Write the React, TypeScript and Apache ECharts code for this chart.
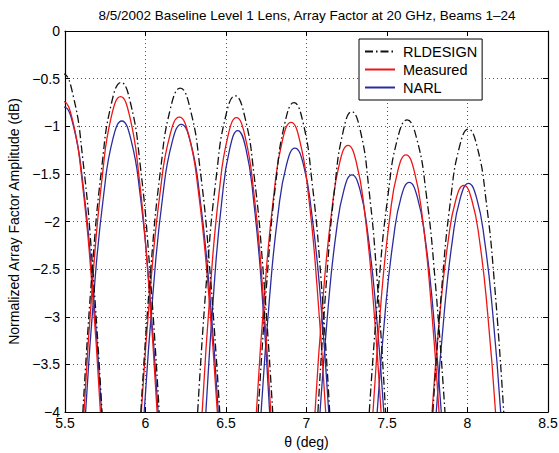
import React, { useEffect, useRef } from 'react';
import * as echarts from 'echarts';

const TITLE = '8/5/2002 Baseline Level 1 Lens, Array Factor at 20 GHz, Beams 1\u201324';
const X_NAME = '\u03b8 (deg)';
const Y_NAME = 'Normalized Array Factor Amplitude (dB)';
const seriesNames = ['RLDESIGN', 'Measured', 'NARL'];
const xTicks = [5.5, 6, 6.5, 7, 7.5, 8, 8.5];
const yTicks = [-4, -3.5, -3, -2.5, -2, -1.5, -1, -0.5, 0];

// each beam: [theta (deg), amplitude (dB)]
const rldesign: number[][][] = [
  [[5.25,-4],[5.31,-2.447],[5.37,-1.338],[5.43,-0.672],[5.49,-0.45],[5.55,-0.672],[5.61,-1.338],[5.67,-2.447],[5.73,-4]],
  [[5.611,-4],[5.67,-2.486],[5.73,-1.405],[5.789,-0.756],[5.848,-0.54],[5.907,-0.756],[5.967,-1.405],[6.026,-2.486],[6.085,-4]],
  [[5.971,-4],[6.032,-2.513],[6.094,-1.45],[6.155,-0.813],[6.216,-0.6],[6.277,-0.813],[6.339,-1.45],[6.4,-2.513],[6.461,-4]],
  [[6.324,-4],[6.382,-2.548],[6.441,-1.51],[6.499,-0.888],[6.557,-0.68],[6.615,-0.888],[6.674,-1.51],[6.732,-2.548],[6.79,-4]],
  [[6.7,-4],[6.756,-2.579],[6.811,-1.565],[6.867,-0.956],[6.922,-0.753],[6.978,-0.956],[7.033,-1.565],[7.089,-2.579],[7.144,-4]],
  [[7.071,-4],[7.124,-2.621],[7.176,-1.635],[7.229,-1.044],[7.281,-0.847],[7.334,-1.044],[7.386,-1.635],[7.439,-2.621],[7.491,-4]],
  [[7.39,-4],[7.449,-2.659],[7.508,-1.701],[7.566,-1.126],[7.625,-0.934],[7.684,-1.126],[7.743,-1.701],[7.801,-2.659],[7.86,-4]],
  [[7.785,-4],[7.84,-2.701],[7.895,-1.773],[7.95,-1.216],[8.005,-1.03],[8.06,-1.216],[8.115,-1.773],[8.17,-2.701],[8.225,-4]],
];

const measured: number[][][] = [
  [[5.26,-4],[5.318,-2.574],[5.375,-1.555],[5.433,-0.944],[5.49,-0.74],[5.548,-0.944],[5.605,-1.555],[5.663,-2.574],[5.72,-4]],
  [[5.618,-4],[5.675,-2.552],[5.732,-1.518],[5.788,-0.897],[5.845,-0.69],[5.902,-0.897],[5.959,-1.518],[6.015,-2.552],[6.072,-4]],
  [[5.974,-4],[6.033,-2.646],[6.092,-1.679],[6.151,-1.098],[6.21,-0.905],[6.269,-1.098],[6.328,-1.679],[6.387,-2.646],[6.446,-4]],
  [[6.352,-4],[6.405,-2.648],[6.458,-1.683],[6.512,-1.103],[6.565,-0.91],[6.618,-1.103],[6.672,-1.683],[6.725,-2.648],[6.778,-4]],
  [[6.689,-4],[6.743,-2.67],[6.797,-1.72],[6.85,-1.15],[6.904,-0.96],[6.958,-1.15],[7.012,-1.72],[7.065,-2.67],[7.119,-4]],
  [[7.053,-4],[7.104,-2.775],[7.156,-1.9],[7.207,-1.375],[7.258,-1.2],[7.309,-1.375],[7.361,-1.9],[7.412,-2.775],[7.463,-4]],
  [[7.413,-4],[7.464,-2.819],[7.516,-1.975],[7.567,-1.469],[7.618,-1.3],[7.669,-1.469],[7.721,-1.975],[7.772,-2.819],[7.823,-4]],
  [[7.78,-4],[7.829,-2.959],[7.879,-2.215],[7.928,-1.769],[7.977,-1.62],[8.026,-1.769],[8.076,-2.215],[8.125,-2.959],[8.174,-4]],
];

const narl: number[][][] = [
  [[5.263,-4],[5.321,-2.6],[5.379,-1.6],[5.437,-1.0],[5.495,-0.8],[5.553,-1.0],[5.611,-1.6],[5.669,-2.6],[5.727,-4]],
  [[5.628,-4],[5.684,-2.663],[5.741,-1.709],[5.797,-1.136],[5.853,-0.945],[5.909,-1.136],[5.966,-1.709],[6.022,-2.663],[6.078,-4]],
  [[5.992,-4],[6.05,-2.679],[6.107,-1.735],[6.165,-1.169],[6.222,-0.98],[6.28,-1.169],[6.337,-1.735],[6.395,-2.679],[6.452,-4]],
  [[6.375,-4],[6.425,-2.707],[6.474,-1.784],[6.524,-1.23],[6.573,-1.045],[6.623,-1.23],[6.672,-1.784],[6.722,-2.707],[6.771,-4]],
  [[6.718,-4],[6.771,-2.788],[6.823,-1.923],[6.876,-1.403],[6.928,-1.23],[6.981,-1.403],[7.033,-1.923],[7.086,-2.788],[7.138,-4]],
  [[7.084,-4],[7.134,-2.911],[7.183,-2.133],[7.233,-1.666],[7.282,-1.51],[7.332,-1.666],[7.381,-2.133],[7.431,-2.911],[7.48,-4]],
  [[7.439,-4],[7.489,-2.946],[7.539,-2.193],[7.588,-1.741],[7.638,-1.59],[7.688,-1.741],[7.738,-2.193],[7.787,-2.946],[7.837,-4]],
  [[7.806,-4],[7.856,-2.95],[7.906,-2.2],[7.956,-1.75],[8.006,-1.6],[8.056,-1.75],[8.106,-2.2],[8.156,-2.95],[8.206,-4]],
];

const FONT = '"Liberation Sans", Arial, Helvetica, sans-serif';
const fmtY = (v: number) => (v < 0 ? '\u2212' + String(Math.abs(v)) : String(v));

export default function App() {
  const ref = useRef<HTMLDivElement>(null);
  useEffect(() => {
    if (!ref.current) return;
    const chart = echarts.init(ref.current, null, { renderer: 'svg' });

    const styles = [
      { color: '#111111', type: [8, 3, 1.5, 3] as any, width: 1.3 },
      { color: '#ee1515', type: 'solid', width: 1.3 },
      { color: '#2b2b9e', type: 'solid', width: 1.3 },
    ];
    const groups = [rldesign, measured, narl];
    const series: any[] = [];
    groups.forEach((beams, gi) => {
      beams.forEach((beam) => {
        series.push({
          type: 'line',
          name: seriesNames[gi],
          data: beam,
          smooth: 0.5,
          symbol: 'none',
          showSymbol: false,
          clip: true,
          silent: true,
          color: styles[gi].color,
          lineStyle: styles[gi],
          z: 3 - gi,
        });
      });
    });

    const axisLineStyle = { color: '#000', width: 1.2 };
    const splitStyle = { color: '#555', type: [1, 3] as any, width: 1 };

    chart.setOption({
      animation: false,
      backgroundColor: '#fff',
      grid: { left: 65, right: 11, top: 31, bottom: 41, outerBoundsMode: 'none', containLabel: false },
      graphic: [
        {
          type: 'text',
          x: 307,
          y: 15,
          style: {
            text: TITLE,
            textAlign: 'center',
            textVerticalAlign: 'middle',
            fontSize: 13.5,
            fontFamily: FONT,
            fill: '#000',
          },
        },
      ],
      legend: {
        data: seriesNames,
        orient: 'vertical',
        left: 359,
        top: 39,
        backgroundColor: '#fff',
        borderColor: '#000',
        borderWidth: 1,
        padding: [5, 5, 5, 5],
        itemWidth: 30,
        itemHeight: 15,
        itemGap: 3,
        selectedMode: false,
        itemStyle: { opacity: 0 },
        textStyle: { fontSize: 14.5, color: '#000', fontFamily: FONT, padding: [0, 0, 0, 3] },
      },
      xAxis: [
        {
          type: 'value',
          min: xTicks[0],
          max: xTicks[xTicks.length - 1],
          interval: 0.5,
          position: 'bottom',
          axisLine: { show: true, onZero: false, lineStyle: axisLineStyle },
          axisTick: { show: true, inside: true, length: 5, lineStyle: { color: '#000' } },
          axisLabel: { color: '#000', fontSize: 14, fontFamily: FONT, margin: 4, formatter: (v: number) => String(v) },
          splitLine: { show: true, lineStyle: splitStyle },
          name: X_NAME,
          nameLocation: 'middle',
          nameGap: 21,
          nameTextStyle: { color: '#000', fontSize: 14, fontFamily: FONT },
        },
        {
          type: 'value',
          min: xTicks[0],
          max: xTicks[xTicks.length - 1],
          interval: 0.5,
          position: 'top',
          axisLine: { show: true, onZero: false, lineStyle: axisLineStyle },
          axisTick: { show: true, inside: true, length: 5, lineStyle: { color: '#000' } },
          axisLabel: { show: false },
          splitLine: { show: false },
        },
      ],
      yAxis: [
        {
          type: 'value',
          min: yTicks[0],
          max: yTicks[yTicks.length - 1],
          interval: 0.5,
          position: 'left',
          axisLine: { show: true, onZero: false, lineStyle: axisLineStyle },
          axisTick: { show: true, inside: true, length: 5, lineStyle: { color: '#000' } },
          axisLabel: { color: '#000', fontSize: 14, fontFamily: FONT, margin: 5, formatter: fmtY },
          splitLine: { show: true, lineStyle: splitStyle },
          name: Y_NAME,
          nameLocation: 'middle',
          nameGap: 42,
          nameRotate: 90,
          nameTextStyle: { color: '#000', fontSize: 14, fontFamily: FONT },
        },
        {
          type: 'value',
          min: yTicks[0],
          max: yTicks[yTicks.length - 1],
          interval: 0.5,
          position: 'right',
          axisLine: { show: true, onZero: false, lineStyle: axisLineStyle },
          axisTick: { show: true, inside: true, length: 5, lineStyle: { color: '#000' } },
          axisLabel: { show: false },
          splitLine: { show: false },
        },
      ],
      series,
    });

    return () => chart.dispose();
  }, []);

  return (
    <div
      ref={ref}
      style={{ position: 'fixed', left: 0, top: 0, width: 559, height: 453, background: '#fff' }}
    />
  );
}
